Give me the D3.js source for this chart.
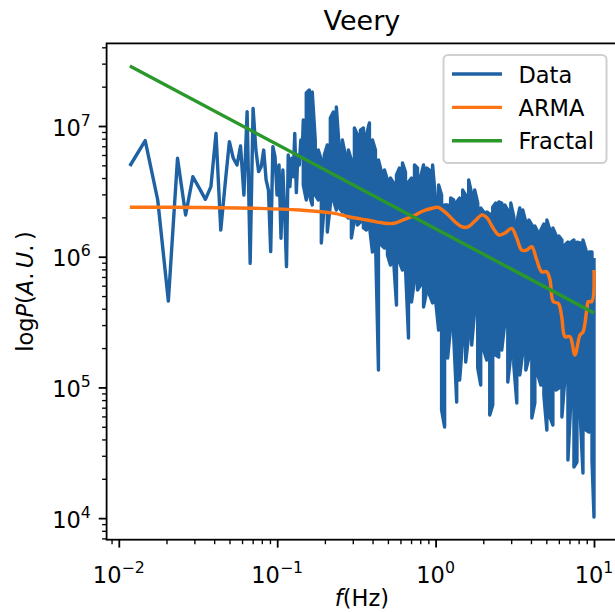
<!DOCTYPE html>
<html>
<head>
<meta charset="utf-8">
<script src="https://cdn.jsdelivr.net/npm/d3@7"></script>
<style>
  body { margin: 0; background: #fff; }
  svg { display: block; font-family: "DejaVu Sans", sans-serif; }
</style>
</head>
<body>
<div class="chart"></div>
<script>
// power values are stored as log10(P)
// low frequency bins of the periodogram
var lowF = [0.01174, 0.01468, 0.01761, 0.02055, 0.02348, 0.02642, 0.02935, 0.03229, 0.03522, 0.03816,
  0.04109, 0.04403, 0.04696, 0.04990, 0.05283, 0.05577, 0.05870, 0.06164, 0.06457, 0.06751,
  0.07044, 0.07338, 0.07631, 0.07925, 0.08218, 0.08512, 0.08805, 0.09099, 0.09392, 0.09686,
  0.09979, 0.1027, 0.1057, 0.1086, 0.1115, 0.1145, 0.1174, 0.1203, 0.1233, 0.1262,
  0.1291, 0.1321, 0.1350, 0.1379, 0.1409, 0.1438];
var lowLogP = [6.694, 6.888, 6.434, 5.661, 6.753, 6.319, 6.612, 6.523, 6.439, 6.536,
  6.944, 6.204, 6.561, 6.880, 6.753, 6.702, 6.847, 6.472, 7.110, 5.949,
  7.135, 6.816, 6.651, 6.689, 6.816, 6.587, 6.510, 6.039, 6.842, 6.765,
  6.472, 6.702, 6.141, 6.663, 6.332, 5.924, 6.778, 6.536, 6.753, 6.612,
  6.944, 6.490, 6.778, 6.702, 6.893, 6.800];

// dense part: highest and lowest value read in each small frequency slot
var bandF = [0.1461, 0.1526, 0.1594, 0.1665, 0.1739, 0.1817, 0.1899, 0.1983, 0.2072, 0.2165,
  0.2262, 0.2363, 0.2469, 0.2579, 0.2694, 0.2814, 0.2940, 0.3072, 0.3209, 0.3352,
  0.3502, 0.3658, 0.3822, 0.3993, 0.4171, 0.4357, 0.4552, 0.4755, 0.4968, 0.5190,
  0.5421, 0.5663, 0.5916, 0.6180, 0.6456, 0.6744, 0.7045, 0.7360, 0.7689, 0.8036,
  0.8395, 0.8770, 0.9162, 0.9572, 1.000, 1.045, 1.091, 1.140, 1.191, 1.244,
  1.300, 1.359, 1.419, 1.483, 1.549, 1.618, 1.690, 1.766, 1.845, 1.927,
  2.013, 2.103, 2.197, 2.295, 2.397, 2.504, 2.616, 2.734, 2.856, 2.984,
  3.117, 3.256, 3.401, 3.553, 3.712, 3.878, 4.051, 4.232, 4.421, 4.618,
  4.825, 5.040, 5.266, 5.502, 5.747, 6.005, 6.273, 6.553, 6.846, 7.153,
  7.472, 7.806, 8.154, 8.518, 8.899, 9.298, 9.713, 10.0];
var bandHi = [7.046, 7.252, 7.275, 7.260, 6.893, 6.816, 6.740, 6.778, 6.855, 7.061,
  7.107, 7.145, 6.816, 6.893, 6.778, 6.816, 6.740, 6.985, 6.931, 6.969,
  6.985, 6.931, 7.023, 6.893, 6.816, 6.740, 6.648, 6.663, 6.587, 6.602,
  6.564, 6.625, 6.679, 6.717, 6.648, 6.572, 6.602, 6.702, 6.679, 6.610,
  6.702, 6.679, 6.663, 6.702, 6.434, 6.549, 6.472, 6.396, 6.396, 6.449,
  6.434, 6.419, 6.449, 6.510, 6.472, 6.587, 6.480, 6.510, 6.411, 6.373,
  6.342, 6.342, 6.327, 6.380, 6.411, 6.419, 6.411, 6.396, 6.357, 6.411,
  6.304, 6.265, 6.373, 6.357, 6.265, 6.281, 6.243, 6.235, 6.189, 6.204,
  6.250, 6.281, 6.204, 6.220, 6.166, 6.158, 6.128, 6.090, 6.112, 6.112,
  6.128, 6.112, 6.105, 6.128, 6.051, 6.036, 6.036, 5.990];
var bandLo = [6.549, 6.434, 6.472, 6.396, 6.472, 6.434, 6.105, 6.396, 6.189, 6.396,
  6.434, 6.357, 6.373, 6.342, 6.319, 6.296, 6.143, 6.281, 6.243, 6.265,
  6.220, 6.204, 6.235, 6.036, 6.143, 5.133, 6.090, 6.067, 6.013, 5.936,
  5.990, 5.630, 5.959, 5.898, 5.914, 5.378, 5.653, 5.822, 5.745, 5.783,
  5.615, 5.730, 5.707, 5.646, 5.669, 5.439, 4.827, 4.697, 5.225, 5.462,
  5.401, 4.888, 5.057, 5.363, 5.194, 5.401, 5.324, 5.592, 5.148, 5.018,
  5.286, 5.210, 4.789, 4.865, 5.248, 5.233, 5.286, 5.493, 5.041, 5.248,
  5.171, 4.881, 5.095, 5.271, 5.133, 5.225, 4.766, 4.881, 5.095, 5.018,
  4.942, 4.674, 4.774, 4.712, 4.980, 4.995, 4.774, 5.072, 4.445, 4.904,
  4.391, 4.429, 4.827, 4.345, 4.674, 4.659, 4.445, 4.008];

var armaF = [0.01174, 0.0326, 0.0778, 0.139, 0.225, 0.288, 0.369, 0.466, 0.538, 0.623,
  0.721, 0.834, 0.964, 1.038, 1.183, 1.329, 1.469, 1.603, 1.775, 1.965,
  2.113, 2.306, 2.513, 2.743, 3.021, 3.250, 3.497, 3.760, 4.045, 4.350,
  4.677, 5.028, 5.277, 5.535, 5.954, 6.253, 6.560, 7.050, 7.580, 8.159,
  8.527, 8.997, 9.213, 9.677, 10.0];
var armaLogP = [6.378, 6.377, 6.370, 6.357, 6.334, 6.304, 6.281, 6.258, 6.254, 6.281,
  6.311, 6.350, 6.373, 6.377, 6.327, 6.266, 6.228, 6.228, 6.274, 6.320,
  6.297, 6.220, 6.166, 6.181, 6.217, 6.143, 6.051, 6.051, 6.077, 5.975,
  5.885, 5.885, 5.822, 5.656, 5.643, 5.541, 5.388, 5.388, 5.248, 5.401,
  5.424, 5.592, 5.656, 5.656, 5.898];

var fractalF = [0.01174, 10];
var fractalLogP = [7.459, 5.569];

var xTickValues = [0.01, 0.1, 1, 10];
var xTickExp = ["\u22122", "\u22121", "0", "1"];
var yTickValues = [1e4, 1e5, 1e6, 1e7];
var yTickExp = ["4", "5", "6", "7"];

var legendLabels = ["Data", "ARMA", "Fractal"];
var legendColors = ["#1f62a4", "#fd7415", "#2b982b"];

var svg = d3.select(".chart")
  .append("svg")
  .attr("width", 615)
  .attr("height", 612);

var plotL = 106.6, plotR = 617.2, plotT = 43.4, plotB = 539.7;

var x = d3.scaleLog()
  .domain([Math.pow(10, -2.077), Math.pow(10, 1.1465)])
  .range([plotL, plotR]);
var y = d3.scaleLog()
  .domain([Math.pow(10, 3.835), Math.pow(10, 7.632)])
  .range([plotB, plotT]);

svg.append("clipPath").attr("id", "plotclip")
  .append("rect")
  .attr("x", plotL).attr("y", plotT)
  .attr("width", plotR - plotL).attr("height", plotB - plotT);

// data series
var dataPts = lowF.map(function(f, i) { return [f, Math.pow(10, lowLogP[i])]; });
bandF.forEach(function(f, i) {
  var hi = [f, Math.pow(10, bandHi[i])], lo = [f, Math.pow(10, bandLo[i])];
  if (i % 2 === 0) { dataPts.push(hi, lo); } else { dataPts.push(lo, hi); }
});
var armaPts = armaF.map(function(f, i) { return [f, Math.pow(10, armaLogP[i])]; });
var fractalPts = fractalF.map(function(f, i) { return [f, Math.pow(10, fractalLogP[i])]; });

var line = d3.line()
  .x(function(d) { return x(d[0]); })
  .y(function(d) { return y(d[1]); });

var plot = svg.append("g").attr("clip-path", "url(#plotclip)");

plot.append("path")
  .datum(dataPts)
  .attr("d", line)
  .attr("fill", "none")
  .attr("stroke", legendColors[0])
  .attr("stroke-width", 3.4)
  .attr("stroke-linejoin", "round");

plot.append("path")
  .datum(armaPts)
  .attr("d", line.curve(d3.curveCatmullRom.alpha(0.5)))
  .attr("fill", "none")
  .attr("stroke", legendColors[1])
  .attr("stroke-width", 3.4)
  .attr("stroke-linejoin", "round");

plot.append("path")
  .datum(fractalPts)
  .attr("d", line.curve(d3.curveLinear))
  .attr("fill", "none")
  .attr("stroke", legendColors[2])
  .attr("stroke-width", 3.4);

// axes
var xMinor = x.ticks(40).filter(function(v) { return xTickValues.indexOf(v) < 0; });
var yMinor = y.ticks(40).filter(function(v) { return yTickValues.indexOf(v) < 0; });

function styleAxis(g, w) {
  g.select(".domain").remove();
  g.selectAll(".tick line").attr("stroke", "#000").attr("stroke-width", w);
  g.selectAll(".tick text").remove();
}

svg.append("g")
  .attr("transform", "translate(0," + plotB + ")")
  .call(d3.axisBottom(x).tickValues(xMinor).tickSize(4.5))
  .call(styleAxis, 1.35);
svg.append("g")
  .attr("transform", "translate(0," + plotB + ")")
  .call(d3.axisBottom(x).tickValues(xTickValues).tickSize(7.9))
  .call(styleAxis, 1.8);
svg.append("g")
  .attr("transform", "translate(" + plotL + ",0)")
  .call(d3.axisLeft(y).tickValues(yMinor).tickSize(4.5))
  .call(styleAxis, 1.35);
svg.append("g")
  .attr("transform", "translate(" + plotL + ",0)")
  .call(d3.axisLeft(y).tickValues(yTickValues).tickSize(7.9))
  .call(styleAxis, 1.8);

function powerLabel(t, exp) {
  t.append("tspan").text("10");
  t.append("tspan").attr("dy", -9.9).attr("font-size", 15.75).text(exp);
}

xTickValues.forEach(function(v, i) {
  svg.append("text")
    .attr("x", x(v))
    .attr("y", 582.5)
    .attr("text-anchor", "middle")
    .style("font-size", "22.5px")
    .call(powerLabel, xTickExp[i]);
});
yTickValues.forEach(function(v, i) {
  svg.append("text")
    .attr("x", plotL - 15.8)
    .attr("y", y(v) + 9.5)
    .attr("text-anchor", "end")
    .style("font-size", "22.5px")
    .call(powerLabel, yTickExp[i]);
});

// frame
svg.append("rect")
  .attr("x", plotL).attr("y", plotT)
  .attr("width", plotR - plotL).attr("height", plotB - plotT)
  .attr("fill", "none")
  .attr("stroke", "#000")
  .attr("stroke-width", 1.8);

// labels
svg.append("text")
  .attr("x", (plotL + plotR) / 2)
  .attr("y", 30)
  .attr("text-anchor", "middle")
  .style("font-size", "27px")
  .text("Veery");

var xl = svg.append("text")
  .attr("x", (plotL + plotR) / 2)
  .attr("y", 606)
  .attr("text-anchor", "middle")
  .style("font-size", "22.5px");
xl.append("tspan").style("font-style", "italic").text("f");
xl.append("tspan").text("(Hz)");

var yl = svg.append("text")
  .attr("transform", "translate(33," + ((plotT + plotB) / 2) + ") rotate(-90)")
  .attr("text-anchor", "middle")
  .style("font-size", "22.5px");
yl.append("tspan").text("log");
yl.append("tspan").style("font-style", "italic").text("P");
yl.append("tspan").text("(");
yl.append("tspan").style("font-style", "italic").text("A");
yl.append("tspan").text(".\u2009");
yl.append("tspan").style("font-style", "italic").text("U");
yl.append("tspan").text(".\u2009)");

// legend
var legend = svg.append("g").attr("class", "legend");
legend.append("rect")
  .attr("x", 443.5).attr("y", 55)
  .attr("width", 163).attr("height", 108)
  .attr("rx", 4.5)
  .attr("fill", "#fff")
  .attr("fill-opacity", 0.8)
  .attr("stroke", "#d0d0d0")
  .attr("stroke-width", 2);

legend.selectAll("g.item")
  .data(legendLabels)
  .enter()
  .append("g")
  .attr("class", "item")
  .each(function(d, i) {
    var g = d3.select(this);
    var cy = 74 + i * 33.4;
    g.append("line")
      .attr("x1", 452).attr("x2", 502)
      .attr("y1", cy).attr("y2", cy)
      .attr("stroke", legendColors[i])
      .attr("stroke-width", 3.4);
    g.append("text")
      .attr("x", 518.5)
      .attr("y", cy + 8.6)
      .style("font-size", "22.5px")
      .text(d);
  });
</script>
</body>
</html>
